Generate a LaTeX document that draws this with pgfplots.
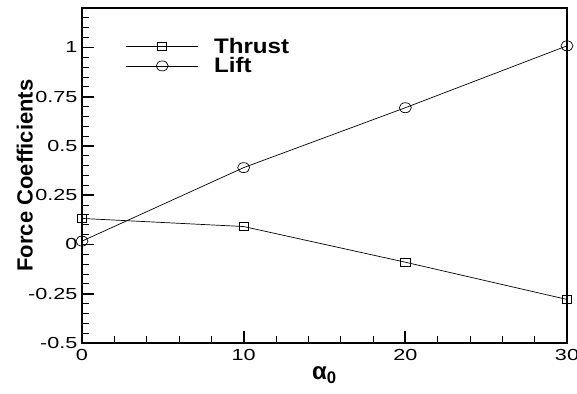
\documentclass[border=0pt]{standalone}
\usepackage{fontspec}
\setmainfont{Liberation Sans}
\newfontfamily\tickfont{Liberation Sans}[FakeStretch=1.35]
\newfontfamily\legfont{Liberation Sans}[FakeStretch=1.15]
\usepackage{pgfplots}
\pgfplotsset{compat=1.18}
\begin{document}
\begin{tikzpicture}
\useasboundingbox (-82pt,-50pt) rectangle (495pt,343pt);
\begin{axis}[
  at={(0,0)}, anchor=south west,
  scale only axis, width=485pt, height=335pt,
  xmin=0, xmax=30, ymin=-0.5, ymax=1.2,
  xtick={0,10,20,30}, xticklabels={0,10,20,30},
  ytick={-0.5,-0.25,0,0.25,0.5,0.75,1},
  yticklabels={-0.5,-0.25,0,0.25,0.5,0.75,1},
  minor xtick={2,4,6,8,12,14,16,18,22,24,26,28},
  minor ytick={-0.45,-0.4,-0.35,-0.3,-0.2,-0.15,-0.1,-0.05,0.05,0.1,0.15,0.2,0.3,0.35,0.4,0.45,0.55,0.6,0.65,0.7,0.8,0.85,0.9,0.95,1.05,1.1,1.15},
  tick pos=left, tick align=inside,
  major tick length=12pt, minor tick length=7pt,
  every major tick/.append style={line width=1.8pt, black},
  every minor tick/.append style={line width=0.9pt, black},
  axis line style={line width=1.8pt},
  /pgf/number format/assume math mode=true,
  ticklabel style={font=\tickfont\fontsize{16}{16}\selectfont},
  xticklabel style={yshift=-3pt},
  yticklabel style={xshift=-1pt},
  xlabel={\textbf{α\textsubscript{0}}},
  xlabel style={at={(axis description cs:0.5,-0.096)}, anchor=center, font=\fontsize{24}{24}\selectfont},
  ylabel={\textbf{Force Coefficients}},
  ylabel style={at={(axis description cs:-0.118,0.5)}, anchor=center, font=\fontsize{22}{22}\selectfont},
  clip=false,
  legend cell align=left,
  legend style={at={(axis description cs:0.09,0.913)}, anchor=north west, draw=none, fill=none,
    font=\legfont\bfseries\fontsize{21}{21}\selectfont, row sep=2pt, inner sep=0pt,
    nodes={inner sep=0.5pt}, /tikz/every odd column/.append style={column sep=15pt}},
  legend image code/.code={\draw[mark repeat=2,mark phase=2,#1] plot coordinates {(0pt,0pt) (36pt,0pt) (72pt,0pt)};},
]
\addplot[black, line width=0.7pt, mark=square, mark size=4pt, mark options={xscale=1.15, solid, line width=0.7pt}]
  coordinates {(0,0.132) (10,0.091) (20,-0.09) (30,-0.279)};
\addlegendentry{Thrust}
\addplot[black, line width=0.7pt, mark=o, mark size=5pt, mark options={xscale=1.2, solid, line width=0.7pt}]
  coordinates {(0,0.017) (10,0.39) (20,0.694) (30,1.008)};
\addlegendentry{Lift}
\end{axis}
\end{tikzpicture}
\end{document}
